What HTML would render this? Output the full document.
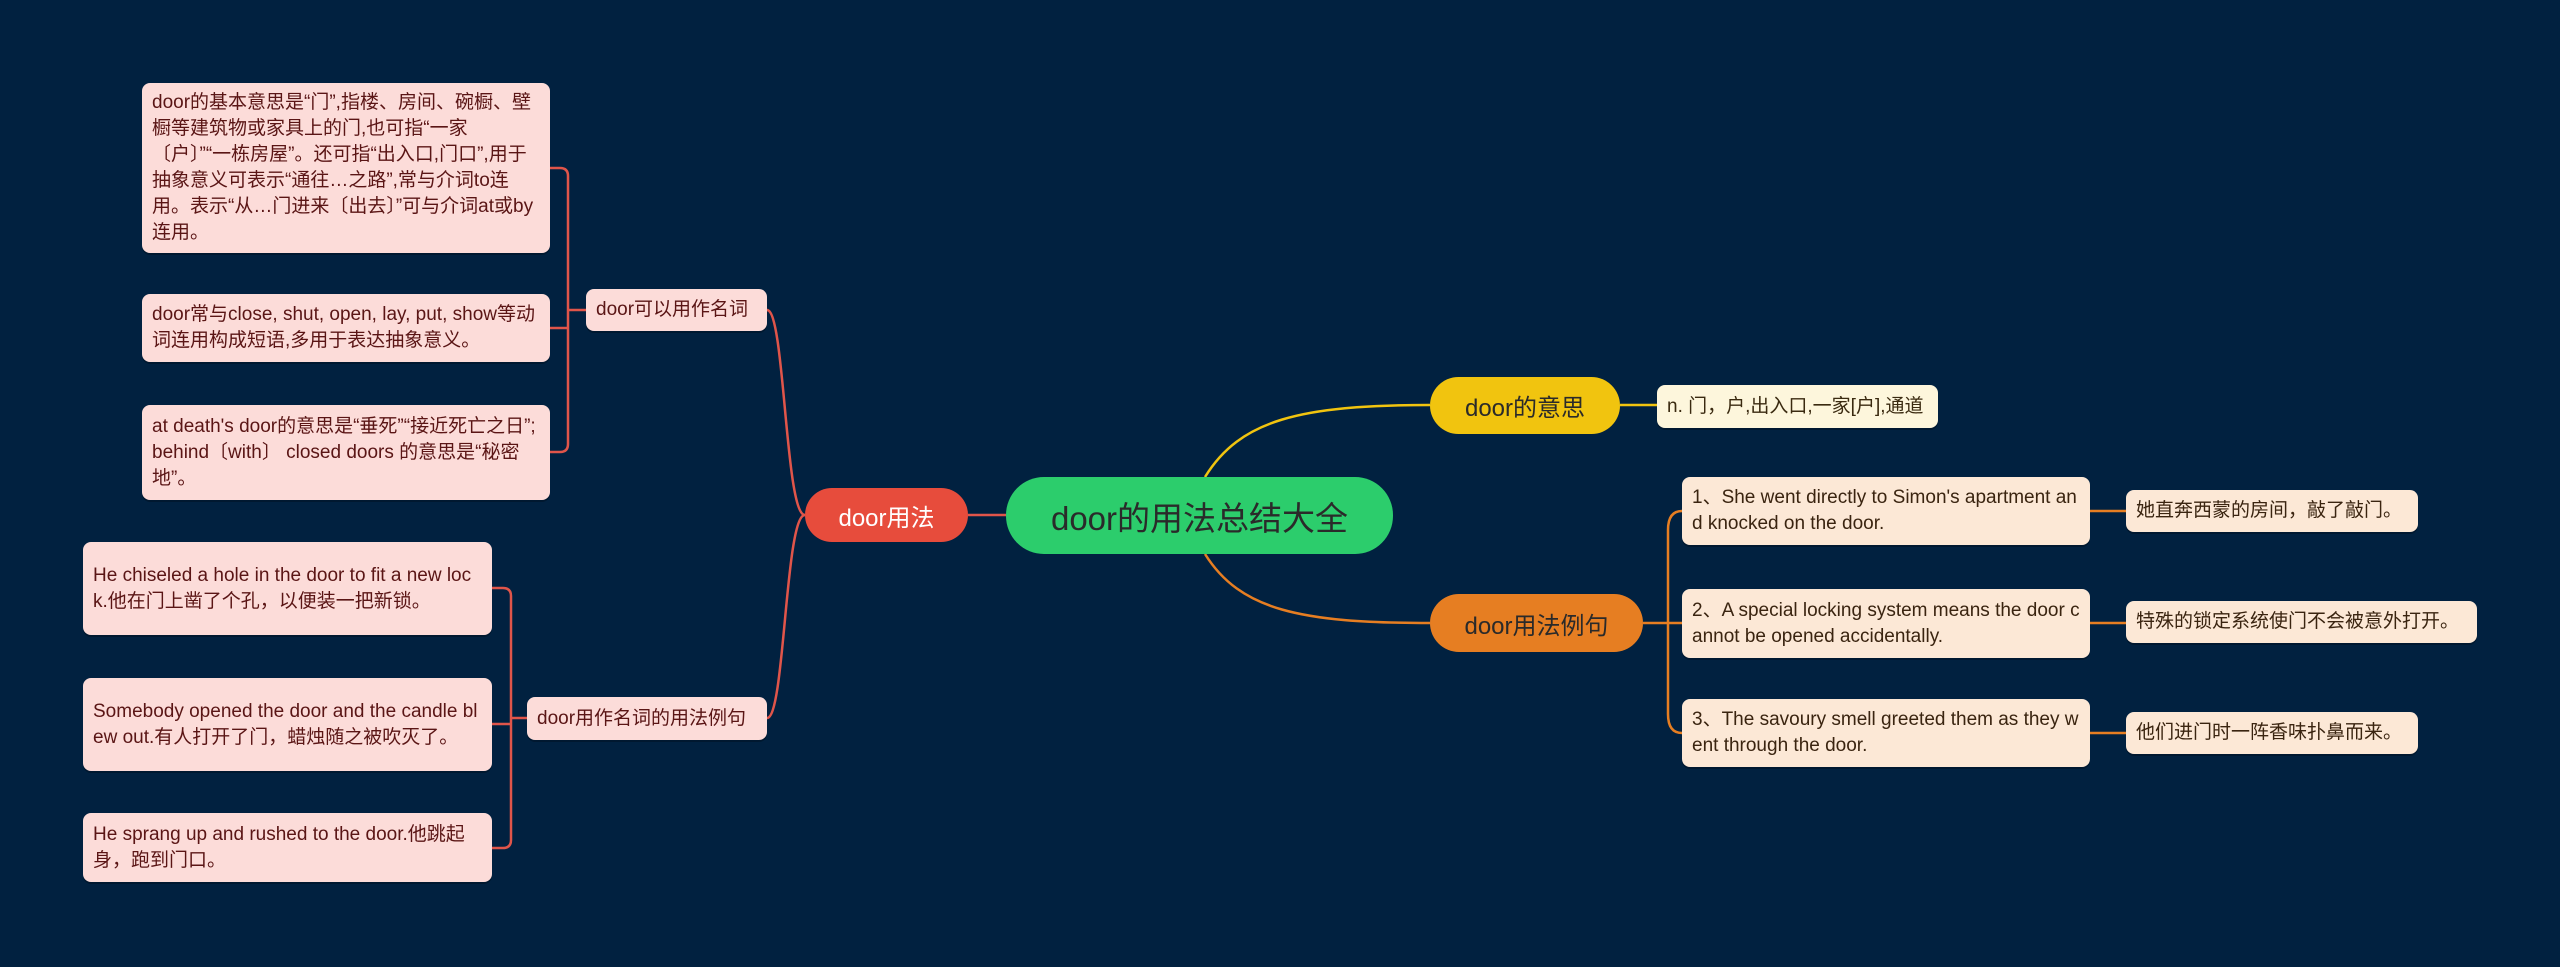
<!DOCTYPE html>
<html><head><meta charset="utf-8"><style>
body{margin:0;width:2560px;height:967px;background:#012140;position:relative;overflow:hidden;font-family:"Liberation Sans","Noto Sans CJK SC",sans-serif}
.b{position:absolute;box-sizing:border-box;border-radius:8px;font-size:19px;line-height:26px;padding:6px 10px;word-break:break-all;box-shadow:0 2px 0 rgba(0,0,0,.25);display:flex;align-items:center}
.b span{display:block}
.l{background:#fcdcd9;color:#5a1515}
.r{background:#fce8d6;color:#3a2410}
.y{background:#fdf6dc;color:#3a2a10}
.n{position:absolute;box-sizing:border-box;display:flex;align-items:center;justify-content:center;border-radius:30px;color:#2a2a2a;white-space:nowrap}
.c{white-space:nowrap}
</style></head><body>
<svg width="2560" height="967" style="position:absolute;left:0;top:0" fill="none" stroke-width="2.5">
<g stroke="#e0554a">
<path d="M968 515 L1006 515"/>
<path d="M805 515 C785 515 785 310 767 310"/>
<path d="M805 515 C785 515 785 718 767 718"/>
<path d="M586 310 L568 310"/>
<path d="M550 168 L560 168 Q568 168 568 176 L568 444 Q568 452 560 452 L550 452"/>
<path d="M550 328 L568 328"/>
<path d="M527 718 L511 718"/>
<path d="M492 588 L503 588 Q511 588 511 596 L511 840 Q511 848 503 848 L492 848"/>
<path d="M492 724 L511 724"/>
</g>
<path stroke="#f1c40f" d="M1205 477 C1240 420 1300 405 1430 405"/>
<path stroke="#f1c40f" d="M1620 405 L1657 405"/>
<path stroke="#e67e22" d="M1205 554 C1240 610 1300 623 1430 623"/>
<g stroke="#e67e22">
<path d="M1643 623 L1682 623"/>
<path d="M1682 511 Q1668 511 1668 530 L1668 714 Q1668 733 1682 733"/>
<path d="M2090 511 L2126 511"/>
<path d="M2090 623 L2126 623"/>
<path d="M2090 733 L2126 733"/>
</g>
</svg>

<div class="n" style="left:1006px;top:477px;width:387px;height:77px;background:#2ccd6c;font-size:33px;border-radius:38px">door的用法总结大全</div>
<div class="n" style="left:805px;top:488px;width:163px;height:54px;background:#e74c3c;font-size:24px;color:#fff">door用法</div>
<div class="n" style="left:1430px;top:377px;width:190px;height:57px;background:#f1c40f;font-size:24px">door的意思</div>
<div class="n" style="left:1430px;top:594px;width:213px;height:58px;background:#e67e22;font-size:24px">door用法例句</div>

<div class="b y c" style="left:1657px;top:385px;width:281px;height:43px">n. 门，户,出入口,一家[户],通道</div>

<div class="b r" style="left:1682px;top:477px;width:408px;height:68px"><span>1、She went directly to Simon's apartment and knocked on the door.</span></div>
<div class="b r" style="left:1682px;top:589px;width:408px;height:69px"><span>2、A special locking system means the door cannot be opened accidentally.</span></div>
<div class="b r" style="left:1682px;top:699px;width:408px;height:68px"><span>3、The savoury smell greeted them as they went through the door.</span></div>
<div class="b r c" style="left:2126px;top:490px;width:292px;height:42px">她直奔西蒙的房间，敲了敲门。</div>
<div class="b r c" style="left:2126px;top:601px;width:351px;height:42px">特殊的锁定系统使门不会被意外打开。</div>
<div class="b r c" style="left:2126px;top:712px;width:292px;height:42px">他们进门时一阵香味扑鼻而来。</div>

<div class="b l c" style="left:586px;top:289px;width:181px;height:42px">door可以用作名词</div>
<div class="b l c" style="left:527px;top:697px;width:240px;height:43px">door用作名词的用法例句</div>

<div class="b l" style="left:142px;top:83px;width:408px;height:170px"><span>door的基本意思是“门”,指楼、房间、碗橱、壁橱等建筑物或家具上的门,也可指“一家〔户〕”“一栋房屋”。还可指“出入口,门口”,用于抽象意义可表示“通往…之路”,常与介词to连用。表示“从…门进来〔出去〕”可与介词at或by连用。</span></div>
<div class="b l" style="left:142px;top:294px;width:408px;height:68px"><span>door常与close, shut, open, lay, put, show等动词连用构成短语,多用于表达抽象意义。</span></div>
<div class="b l" style="left:142px;top:405px;width:408px;height:95px"><span>at death's door的意思是“垂死”“接近死亡之日”; behind〔with〕 closed doors 的意思是“秘密地”。</span></div>

<div class="b l" style="left:83px;top:542px;width:409px;height:93px"><span>He chiseled a hole in the door to fit a new lock.他在门上凿了个孔，以便装一把新锁。</span></div>
<div class="b l" style="left:83px;top:678px;width:409px;height:93px"><span>Somebody opened the door and the candle blew out.有人打开了门，蜡烛随之被吹灭了。</span></div>
<div class="b l" style="left:83px;top:813px;width:409px;height:69px"><span>He sprang up and rushed to the door.他跳起身，跑到门口。</span></div>
</body></html>
